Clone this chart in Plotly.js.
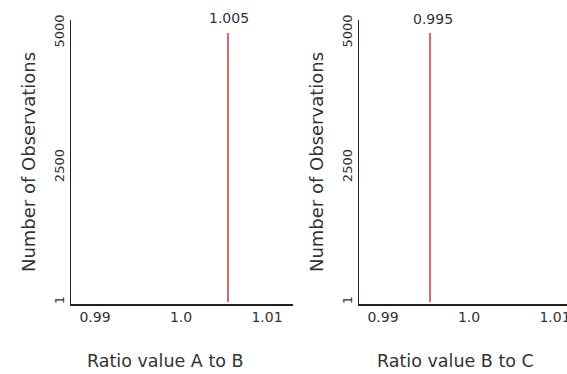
<!DOCTYPE html>
<html>
<head>
<meta charset="utf-8">
<script src="https://cdn.plot.ly/plotly-3.0.1.min.js"></script>
<style>html,body{margin:0;padding:0;background:#fff;}#chart{width:567px;height:374px;}</style>
</head>
<body>
<div id="chart"></div>
<script>
// Data
var ratioAB = 1.005;          // all observations at this ratio (A to B)
var ratioBC = 0.995;          // all observations at this ratio (B to C)
var obsRange = [1, 5000];     // number of observations spanned by the spike
var xTickVals = [0.99, 1.0, 1.01];
var xTickText = ['0.99', '1.0', '1.01'];
var yTickVals = [1, 2500, 5000];
var yTickText = ['1', '2500', '5000'];
var xTitles = ['Ratio value A to B', 'Ratio value B to C'];
var yTitle = 'Number of Observations';

var font = 'DejaVu Sans, Verdana, sans-serif';
var red = '#c9373b';

var traces = [
  {x: [ratioAB, ratioAB], y: obsRange, type: 'scatter', mode: 'lines',
   line: {color: red, width: 1.5}, xaxis: 'x', yaxis: 'y', hoverinfo: 'x+y'},
  {x: [ratioBC, ratioBC], y: obsRange, type: 'scatter', mode: 'lines',
   line: {color: red, width: 1.5}, xaxis: 'x2', yaxis: 'y2', hoverinfo: 'x+y'}
];

function xAxis(domain, range) {
  return {
    domain: domain, range: range, tickvals: xTickVals, ticktext: xTickText,
    showgrid: false, zeroline: false, showline: true, linecolor: '#222', linewidth: 1.5,
    ticks: '', ticklabeloverflow: 'allow', ticklabelshift: -4,
    tickfont: {family: font, size: 14, color: '#333'},
    fixedrange: true
  };
}
function yAxis(anchor) {
  return {
    anchor: anchor, domain: [0, 1], range: [-36, 5242],
    tickvals: yTickVals, ticktext: yTickText, tickangle: -90,
    showgrid: false, zeroline: false, showline: true, linecolor: '#222', linewidth: 1.5,
    ticks: '', tickfont: {family: font, size: 13, color: '#333'},
    title: {text: yTitle, font: {family: font, size: 18, color: '#333'}, standoff: 12},
    fixedrange: true
  };
}

var layout = {
  width: 567, height: 374,
  margin: {l: 0, r: 0, t: 20, b: 70},
  paper_bgcolor: '#fff', plot_bgcolor: '#fff',
  showlegend: false,
  xaxis: xAxis([71/567, 293/567], [0.98674, 1.01256]),
  yaxis: yAxis('x'),
  xaxis2: xAxis([359/567, 1], [0.98674, 1.01093]),
  yaxis2: yAxis('x2'),
  annotations: [
    {x: ratioAB, y: obsRange[1], xref: 'x', yref: 'y', text: String(ratioAB),
     showarrow: false, yanchor: 'bottom', yshift: 5, xshift: 1,
     font: {family: font, size: 14, color: '#333'}},
    {x: ratioBC, y: obsRange[1], xref: 'x2', yref: 'y2', text: String(ratioBC),
     showarrow: false, yanchor: 'bottom', yshift: 4, xshift: 3,
     font: {family: font, size: 14, color: '#333'}},
    {x: 165/567, y: (304 - 361) / 284, xref: 'paper', yref: 'paper', text: xTitles[0],
     showarrow: false, xanchor: 'center', yanchor: 'middle',
     font: {family: font, size: 17.5, color: '#333'}},
    {x: 455/567, y: (304 - 361) / 284, xref: 'paper', yref: 'paper', text: xTitles[1],
     showarrow: false, xanchor: 'center', yanchor: 'middle',
     font: {family: font, size: 17.5, color: '#333'}}
  ]
};

Plotly.newPlot('chart', traces, layout, {displayModeBar: false, staticPlot: true});
</script>
</body>
</html>
